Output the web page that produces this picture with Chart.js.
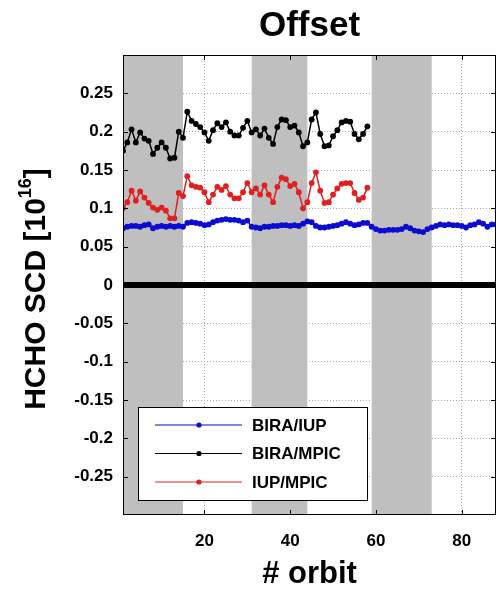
<!DOCTYPE html>
<html>
<head>
<meta charset="utf-8">
<title>Offset</title>
<script src="https://cdn.jsdelivr.net/npm/chart.js@4.4.0/dist/chart.umd.min.js"></script>
<style>
  html, body { margin: 0; padding: 0; background: #fff; overflow: hidden; }
  #wrap { width: 496px; height: 590px; overflow: hidden; }
</style>
</head>
<body>
<div id="wrap"><canvas id="offset-chart" width="500" height="590"></canvas></div>
<script>
// 轴范围和刻度
const orbitRange = [1, 88];
const xTicks = [20, 40, 60, 80];
const yTicks = [-0.25, -0.2, -0.15, -0.1, -0.05, 0, 0.05, 0.1, 0.15, 0.2, 0.25];

// 灰色阴影区间 (orbit)
const grayBands = [[1, 15], [31, 44], [59, 73]];

// 三组差值, 下标 0 对应 orbit 1
const seriesNames = ['BIRA/IUP', 'BIRA/MPIC', 'IUP/MPIC'];
const seriesColors = ['#0b0bd2', '#000000', '#e02020'];

const biraIup = [
    0.074, 0.076, 0.077, 0.077, 0.076, 0.078, 0.079, 0.074, 0.076, 0.077, 0.076, 0.077, 0.076, 0.077, 0.076,
    0.081, 0.082, 0.081, 0.080, 0.078, 0.079, 0.082, 0.084, 0.085, 0.086, 0.085, 0.085, 0.084, 0.082, 0.084,
    0.076, 0.075, 0.074, 0.076, 0.076, 0.077, 0.077, 0.078, 0.078, 0.077, 0.078, 0.077, 0.080, 0.083,
    0.082, 0.077, 0.075, 0.075, 0.076, 0.077, 0.078, 0.080, 0.082, 0.080, 0.078, 0.079, 0.081, 0.081,
    0.076, 0.073, 0.071, 0.071, 0.072, 0.072, 0.072, 0.073, 0.076, 0.074, 0.071, 0.070, 0.069, 0.073, 0.075,
    0.077, 0.079, 0.078, 0.079, 0.078, 0.078, 0.077, 0.075, 0.078, 0.079, 0.082, 0.080, 0.076, 0.079, 0.079
];

const biraMpic = [
    0.175, 0.186, 0.203, 0.186, 0.199, 0.191, 0.188, 0.171, 0.179, 0.186, 0.179, 0.165, 0.166, 0.200, 0.192,
    0.226, 0.214, 0.210, 0.206, 0.199, 0.188, 0.202, 0.211, 0.206, 0.212, 0.200, 0.195, 0.195, 0.205, 0.214,
    0.199, 0.203, 0.195, 0.204, 0.192, 0.184, 0.206, 0.216, 0.215, 0.206, 0.208, 0.199, 0.181, 0.186,
    0.216, 0.225, 0.197, 0.181, 0.182, 0.194, 0.202, 0.212, 0.214, 0.213, 0.197, 0.190, 0.197, 0.207
];

const iupMpic = [
    0.100, 0.108, 0.123, 0.110, 0.122, 0.114, 0.107, 0.101, 0.098, 0.101, 0.097, 0.087, 0.087, 0.120, 0.116,
    0.142, 0.130, 0.128, 0.127, 0.121, 0.108, 0.118, 0.128, 0.124, 0.129, 0.118, 0.113, 0.113, 0.121, 0.133,
    0.121, 0.126, 0.118, 0.130, 0.118, 0.108, 0.128, 0.140, 0.138, 0.129, 0.132, 0.121, 0.100, 0.108,
    0.133, 0.147, 0.123, 0.107, 0.108, 0.118, 0.126, 0.132, 0.133, 0.133, 0.120, 0.111, 0.114, 0.127
];

const FONT = '"Liberation Sans", Arial, Helvetica, sans-serif';

// 转成 {x: orbit, y: 值}
function toPoints(values) {
    return values.map((v, i) => ({ x: i + 1, y: v }));
}

const datasets = [biraIup, biraMpic, iupMpic].map((values, i) => ({
    label: seriesNames[i],
    data: toPoints(values),
    borderColor: seriesColors[i],
    backgroundColor: seriesColors[i],
    borderWidth: 1.5,
    pointRadius: 2.9,
    pointBorderWidth: 0,
    tension: 0
}));

// 阴影、零线、边框、图例和纵轴标题
const orbitFrame = {
    id: 'orbitFrame',
    beforeDatasetsDraw(chart) {
        const { ctx, chartArea: a, scales: { x, y } } = chart;
        ctx.save();
        ctx.fillStyle = '#bfbfbf';
        grayBands.forEach(([s, e]) => {
            const x0 = Math.max(a.left, x.getPixelForValue(s));
            const x1 = Math.min(a.right, x.getPixelForValue(e));
            ctx.fillRect(x0, a.top, x1 - x0, a.bottom - a.top);
        });
        const y0 = y.getPixelForValue(0);
        ctx.fillStyle = '#000';
        ctx.fillRect(a.left, y0 - 3, a.right - a.left, 6);
        ctx.restore();
    },
    afterDatasetsDraw(chart) {
        const { ctx, chartArea: a, scales: { x, y } } = chart;
        ctx.save();
        ctx.strokeStyle = '#000';
        ctx.lineWidth = 1;
        ctx.strokeRect(a.left + 0.5, a.top + 0.5, a.right - a.left - 1, a.bottom - a.top - 1);
        // 向内的刻度线
        ctx.beginPath();
        yTicks.forEach(v => {
            const py = Math.round(y.getPixelForValue(v)) + 0.5;
            ctx.moveTo(a.left, py); ctx.lineTo(a.left + 5, py);
            ctx.moveTo(a.right - 5, py); ctx.lineTo(a.right, py);
        });
        xTicks.forEach(v => {
            const px = Math.round(x.getPixelForValue(v)) + 0.5;
            ctx.moveTo(px, a.bottom); ctx.lineTo(px, a.bottom - 5);
            ctx.moveTo(px, a.top); ctx.lineTo(px, a.top + 5);
        });
        ctx.stroke();
        ctx.restore();
    },
    afterDraw(chart) {
        const ctx = chart.ctx;
        ctx.save();

        // 图例
        const box = { x: 138, y: 407, w: 229, h: 93 };
        ctx.fillStyle = '#fff';
        ctx.fillRect(box.x, box.y, box.w, box.h);
        ctx.strokeStyle = '#000';
        ctx.lineWidth = 1;
        ctx.strokeRect(box.x + 0.5, box.y + 0.5, box.w, box.h);
        ctx.font = 'bold 17px ' + FONT;
        ctx.textBaseline = 'middle';
        ctx.textAlign = 'left';
        chart.data.datasets.forEach((ds, i) => {
            const ly = box.y + 18 + i * 28.5;
            ctx.strokeStyle = ds.borderColor;
            ctx.lineWidth = 1;
            ctx.beginPath();
            ctx.moveTo(box.x + 17, ly);
            ctx.lineTo(box.x + 104, ly);
            ctx.stroke();
            ctx.fillStyle = ds.borderColor;
            ctx.beginPath();
            ctx.arc(box.x + 61, ly, 2.6, 0, Math.PI * 2);
            ctx.fill();
            ctx.fillStyle = '#000';
            ctx.fillText(ds.label, box.x + 114, ly + 1);
        });

        // 纵轴标题, 带上标
        const main = 'HCHO SCD [10', sup = '16', close = ']';
        ctx.translate(37, 289);
        ctx.rotate(-Math.PI / 2);
        ctx.fillStyle = '#000';
        ctx.textBaseline = 'middle';
        ctx.font = 'bold 30px ' + FONT;
        const w1 = ctx.measureText(main).width;
        const w3 = ctx.measureText(close).width;
        ctx.font = 'bold 18px ' + FONT;
        const w2 = ctx.measureText(sup).width;
        let sx = -(w1 + w2 + w3) / 2;
        ctx.font = 'bold 30px ' + FONT;
        ctx.fillText(main, sx, 0);
        ctx.font = 'bold 18px ' + FONT;
        ctx.fillText(sup, sx + w1, -11);
        ctx.font = 'bold 30px ' + FONT;
        ctx.fillText(close, sx + w1 + w2, 0);
        ctx.restore();
    }
};

const ctx = document.getElementById('offset-chart').getContext('2d');

window.offsetChart = new Chart(ctx, {
    type: 'line',
    data: { datasets: datasets },
    options: {
        responsive: false,
        animation: false,
        devicePixelRatio: 1,
        layout: { padding: { left: 0, right: 3, top: 0, bottom: 0 } },
        plugins: {
            legend: { display: false },
            tooltip: { enabled: false },
            title: {
                display: true,
                fullSize: false,
                text: 'Offset',
                color: '#000',
                font: { family: FONT, size: 35, weight: 'bold', lineHeight: 1.2 },
                padding: { top: 5, bottom: 8 }
            }
        },
        scales: {
            x: {
                type: 'linear',
                min: orbitRange[0],
                max: orbitRange[1],
                afterBuildTicks: s => { s.ticks = xTicks.map(v => ({ value: v })); },
                afterFit: s => { s.height = 75; },
                grid: { color: '#a8a8a8', lineWidth: 1, drawTicks: false },
                border: { display: false, dash: [1, 2] },
                ticks: {
                    color: '#000',
                    padding: 16,
                    maxRotation: 0,
                    font: { family: FONT, size: 17, weight: 'bold' }
                },
                title: {
                    display: true,
                    text: '# orbit',
                    color: '#000',
                    font: { family: FONT, size: 31, weight: 'bold', lineHeight: 1.2 },
                    padding: { top: 0, bottom: -3 }
                }
            },
            y: {
                type: 'linear',
                min: -0.3,
                max: 0.3,
                afterBuildTicks: s => { s.ticks = yTicks.map(v => ({ value: v })); },
                afterFit: s => { s.width = 123; },
                grid: { color: '#a8a8a8', lineWidth: 1, drawTicks: false },
                border: { display: false, dash: [1, 2] },
                ticks: {
                    color: '#000',
                    padding: 10,
                    font: { family: FONT, size: 17, weight: 'bold' },
                    callback: v => String(v)
                }
            }
        }
    },
    plugins: [orbitFrame]
});
</script>
</body>
</html>
